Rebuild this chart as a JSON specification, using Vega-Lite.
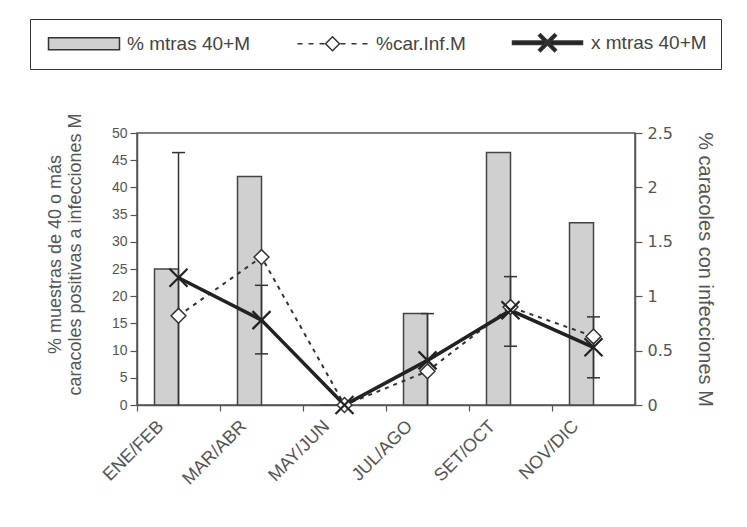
{
  "$schema": "https://vega.github.io/schema/vega-lite/v6.json",
  "width": 498,
  "height": 272,
  "autosize": "none",
  "padding": {"left": 137, "top": 133, "right": 112, "bottom": 122},
  "background": "white",
  "config": {
    "font": "Liberation Sans",
    "view": {"stroke": "#555", "strokeWidth": 1.5},
    "axis": {
      "grid": false,
      "domainColor": "#555",
      "domainWidth": 1.5,
      "tickColor": "#555",
      "tickWidth": 1.2,
      "labelColor": "#555",
      "labelFontSize": 14,
      "labelFont": "Liberation Sans",
      "titleColor": "#555",
      "titleFont": "Liberation Sans",
      "titleFontSize": 18,
      "titleFontWeight": "normal"
    }
  },
  "data": {
    "values": [
      {"cat": "ENE/FEB", "pct": 25, "car": 0.82, "xm": 1.17, "lo": 0, "hi": 2.32, "locap": null},
      {"cat": "MAR/ABR", "pct": 42, "car": 1.36, "xm": 0.78, "lo": 0.47, "hi": 1.1, "locap": 0.47},
      {"cat": "MAY/JUN", "pct": 0, "car": 0, "xm": 0, "lo": null, "hi": null, "locap": null},
      {"cat": "JUL/AGO", "pct": 16.8, "car": 0.31, "xm": 0.41, "lo": 0, "hi": 0.84, "locap": null},
      {"cat": "SET/OCT", "pct": 46.4, "car": 0.9, "xm": 0.87, "lo": 0.54, "hi": 1.18, "locap": 0.54},
      {"cat": "NOV/DIC", "pct": 33.5, "car": 0.63, "xm": 0.53, "lo": 0.25, "hi": 0.81, "locap": 0.25}
    ]
  },
  "encoding": {
    "x": {
      "field": "cat",
      "type": "nominal",
      "sort": null,
      "scale": {"domain": ["ENE/FEB", "MAR/ABR", "MAY/JUN", "JUL/AGO", "SET/OCT", "NOV/DIC"], "paddingInner": 0, "paddingOuter": 0},
      "axis": {"title": null, "labelAngle": -45, "bandPosition": 0, "labelOffset": -24, "tickSize": 6, "labelPadding": 6, "labelFontSize": 18}
    }
  },
  "layer": [
    {
      "mark": {"type": "bar", "size": 24, "xOffset": -12, "fill": "#d0d0d0", "stroke": "#444", "strokeWidth": 1.5},
      "encoding": {
        "y": {
          "field": "pct",
          "type": "quantitative",
          "scale": {"domain": [0, 50], "nice": false},
          "axis": {
            "title": ["% muestras de 40 o más", "caracoles positivas a infecciones M"],
            "values": [0, 5, 10, 15, 20, 25, 30, 35, 40, 45, 50],
            "tickSize": 7,
            "labelPadding": 3,
            "titlePadding": 27,
            "titleLineHeight": 20,
            "titleY": 121
          }
        }
      }
    },
    {
      "layer": [
        {
          "mark": {"type": "rule", "stroke": "#333", "strokeWidth": 1.5},
          "encoding": {
            "y": {
              "field": "lo",
              "type": "quantitative",
              "scale": {"domain": [0, 2.5], "nice": false},
              "axis": {
                "orient": "right",
                "title": "% caracoles con infecciones M",
                "values": [0, 0.5, 1, 1.5, 2, 2.5],
                "format": "~g",
                "tickSize": 7,
                "labelPadding": 5,
                "labelFont": "DejaVu Sans",
                "labelFontSize": 16,
                "titleFontSize": 20,
                "titlePadding": 22
              }
            },
            "y2": {"field": "hi"}
          }
        },
        {
          "mark": {"type": "tick", "orient": "horizontal", "size": 13, "thickness": 1.5, "color": "#333", "opacity": 1},
          "encoding": {"y": {"field": "hi", "type": "quantitative"}}
        },
        {
          "mark": {"type": "tick", "orient": "horizontal", "size": 13, "thickness": 1.5, "color": "#333", "opacity": 1},
          "encoding": {"y": {"field": "locap", "type": "quantitative"}}
        },
        {
          "mark": {"type": "line", "stroke": "#333", "strokeWidth": 2, "strokeDash": [4, 5]},
          "encoding": {"y": {"field": "car", "type": "quantitative"}}
        },
        {
          "mark": {"type": "line", "stroke": "#222", "strokeWidth": 3.5},
          "encoding": {"y": {"field": "xm", "type": "quantitative"}}
        },
        {
          "mark": {"type": "point", "shape": "diamond", "size": 220, "filled": true, "fill": "white", "stroke": "#333", "strokeWidth": 1.5, "opacity": 1},
          "encoding": {"y": {"field": "car", "type": "quantitative"}}
        },
        {
          "mark": {"type": "point", "shape": "M-1,-1L1,1M-1,1L1,-1", "size": 324, "filled": false, "stroke": "#222", "strokeWidth": 2.2, "opacity": 1},
          "encoding": {"y": {"field": "xm", "type": "quantitative"}}
        },
        {
          "data": {"values": [{"s": "% mtras 40+M"}, {"s": "%car.Inf.M"}, {"s": "x mtras 40+M"}]},
          "mark": {"type": "point", "filled": true, "stroke": "#333", "strokeWidth": 1.3, "opacity": 1},
          "encoding": {
            "y": {"field": "v", "type": "quantitative"},
            "shape": {
              "field": "s",
              "type": "nominal",
              "scale": {
                "domain": ["% mtras 40+M", "%car.Inf.M", "x mtras 40+M"],
                "range": [
                  "M-1,-1.2H13.2V1.2H-1Z",
                  "M-1,0H0M1.2,0H2.2M3.4,0H4.4M7.6,0H8.6M9.8,0H10.8M12,0H13M6,-1.4L7.4,0L6,1.4L4.6,0Z",
                  "M-1,-0.35H13V0.35H-1ZM4.2,-1.4L4.6,-1.8L7.8,1.4L7.4,1.8ZM4.2,1.4L4.6,1.8L7.8,-1.4L7.4,-1.8Z"
                ]
              },
              "legend": {
                "title": null, "orient": "none", "legendX": -107, "legendY": -114, "direction": "horizontal",
                "strokeColor": "#333", "padding": 14, "symbolSize": 100, "labelOffset": 64, "columnPadding": 42,
                "labelFontSize": 19, "labelFont": "Liberation Sans", "labelColor": "#444"
              }
            },
            "fill": {
              "field": "s",
              "type": "nominal",
              "scale": {"domain": ["% mtras 40+M", "%car.Inf.M", "x mtras 40+M"], "range": ["#d0d0d0", "white", "#222"]},
              "legend": {
                "title": null, "orient": "none", "legendX": -107, "legendY": -114, "direction": "horizontal",
                "strokeColor": "#333", "padding": 14, "symbolSize": 100, "labelOffset": 64, "columnPadding": 42,
                "labelFontSize": 19, "labelFont": "Liberation Sans", "labelColor": "#444"
              }
            }
          }
        }
      ]
    }
  ],
  "resolve": {"scale": {"y": "independent"}}
}
